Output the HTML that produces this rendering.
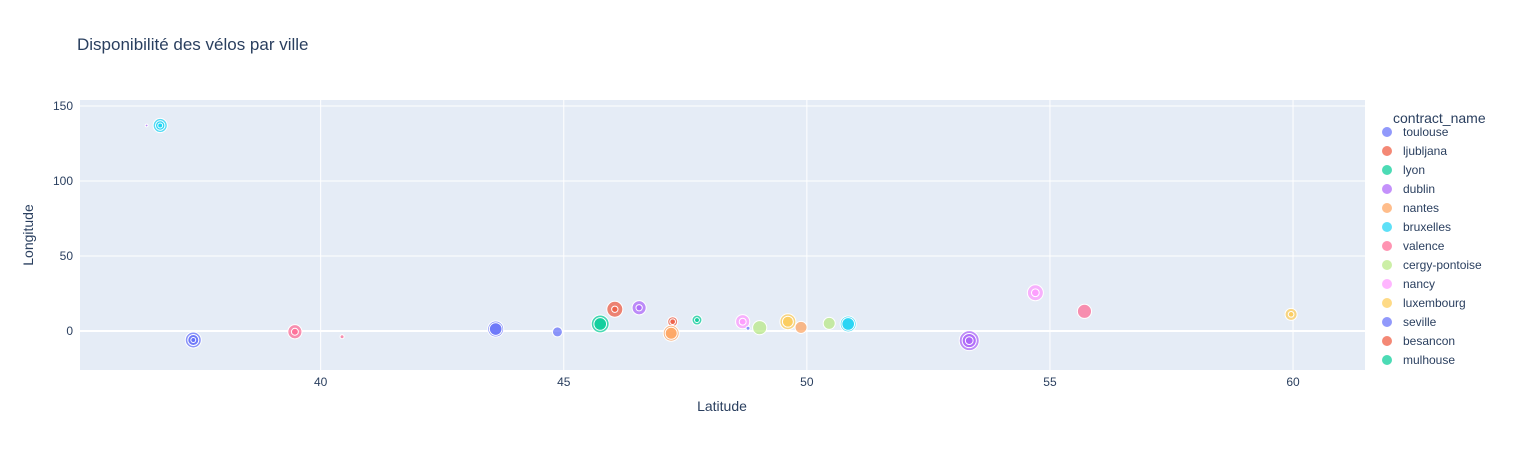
<!DOCTYPE html>
<html><head><meta charset="utf-8">
<style>
body{margin:0;background:#fff;font-family:"Liberation Sans",Arial,sans-serif;}
svg text{font-family:"Liberation Sans",Arial,sans-serif;fill:#2a3f5f;}
</style></head>
<body>
<svg id="chart" width="1538" height="450" xmlns="http://www.w3.org/2000/svg">
<rect width="1538" height="450" fill="#fff"/>
<text x="77" y="50" font-size="17">Disponibilité des vélos par ville</text>
<rect x="80" y="100" width="1285" height="270" fill="#e5ecf6"/>
<g id="grid"></g>
<g id="marks"></g>
<g id="ticks"></g>
<text x="722" y="411" font-size="14" text-anchor="middle">Latitude</text>
<text transform="translate(33,235) rotate(-90)" font-size="14" text-anchor="middle">Longitude</text>
<g id="legend"></g>
</svg>
<script>
const cities = ["toulouse","ljubljana","lyon","dublin","nantes","bruxelles","valence","cergy-pontoise","nancy","luxembourg","seville","besancon","mulhouse"];
const palette = ["#636efa","#EF553B","#00cc96","#ab63fa","#FFA15A","#19d3f3","#FF6692","#B6E880","#FF97FF","#FECB52"];
const xTicks = [40,45,50,55,60];
const yTicks = [0,50,100,150];
// bubble data: latitude, longitude, bikes, color index
const lats = [36.7,36.7,36.7,36.42,37.38,37.38,37.38,39.47,39.47,40.44,43.6,43.6,44.87,45.75,45.75,46.05,46.05,46.55,46.55,47.24,47.24,47.21,47.21,47.74,47.74,48.68,48.68,48.79,49.03,49.61,49.61,49.88,50.46,50.85,50.85,53.34,53.34,53.34,54.7,54.7,55.71,59.96,59.96];
const lons = [137,137,137,137,-6,-6,-6,-0.5,-0.5,-3.8,1.3,1.3,-0.6,4.7,4.7,14.5,14.5,15.5,15.5,6.2,6.2,-1.5,-1.5,7.3,7.3,6.2,6.2,1.8,2.2,6.2,6.2,2.4,5.1,4.7,4.7,-6.4,-6.4,-6.4,25.5,25.5,13.1,11.1,11.1];
const bikes = [50,22,6,2,64,30,6,50,12,4,64,40,25,80,40,64,10,50,10,25,8,64,36,25,6,50,12,4,50,64,30,36,36,64,40,100,50,15,64,15,50,36,8];
const colorIdx = [5,5,5,3,0,0,0,6,6,6,0,0,0,2,2,1,1,3,3,1,1,4,4,2,2,8,8,0,7,9,9,4,7,5,5,3,3,3,8,8,6,9,9];

const X0=80,X1=1365,Y0=100,Y1=370;
const xmin=35.05,xmax=61.48,ymin=-26,ymax=154;
const xs=v=>X0+(v-xmin)/(xmax-xmin)*(X1-X0);
const ys=v=>Y1-(v-ymin)/(ymax-ymin)*(Y1-Y0);
const rs=v=>Math.sqrt(v)*1.0;
const NS="http://www.w3.org/2000/svg";
function mk(tag,attrs,parent){const e=document.createElementNS(NS,tag);for(const k in attrs)e.setAttribute(k,attrs[k]);parent.appendChild(e);return e;}
const grid=document.getElementById('grid'),ticks=document.getElementById('ticks'),marks=document.getElementById('marks'),legend=document.getElementById('legend');
xTicks.forEach(t=>{
  const l=mk('line',{x1:xs(t),x2:xs(t),y1:Y0,y2:Y1,stroke:'#fff','stroke-width':1},grid);
  
  
  const tx=mk('text',{x:xs(t),y:386,'font-size':12,'text-anchor':'middle'},ticks);
  tx.textContent=t;
  
  
});
yTicks.forEach(t=>{
  const l=mk('line',{x1:X0,x2:X1,y1:ys(t),y2:ys(t),stroke:'#fff','stroke-width':t===0?2:1},grid);
  
  
  const tx=mk('text',{x:73,y:ys(t)+4,'font-size':12,'text-anchor':'end'},ticks);
  tx.textContent=t;
  
  
});
lats.forEach((la,i)=>{
  const c=mk('circle',{cx:xs(la),cy:ys(lons[i]),r:rs(bikes[i]),fill:palette[colorIdx[i]],'fill-opacity':0.7,stroke:'#fff','stroke-width':1},marks);
  
  
});
const lt=mk('text',{x:1393,y:123,'font-size':14},legend);
lt.textContent='contract_name';


cities.forEach((c,i)=>{
  const g=mk('g',{},legend);
  
  
  const y=132+i*19;
  mk('circle',{cx:1387,cy:y,r:5,fill:palette[i%10],'fill-opacity':0.7},g);
  const t=mk('text',{x:1403,y:y+4,'font-size':12},g);
  t.textContent=c;
});
</script>
</body></html>
